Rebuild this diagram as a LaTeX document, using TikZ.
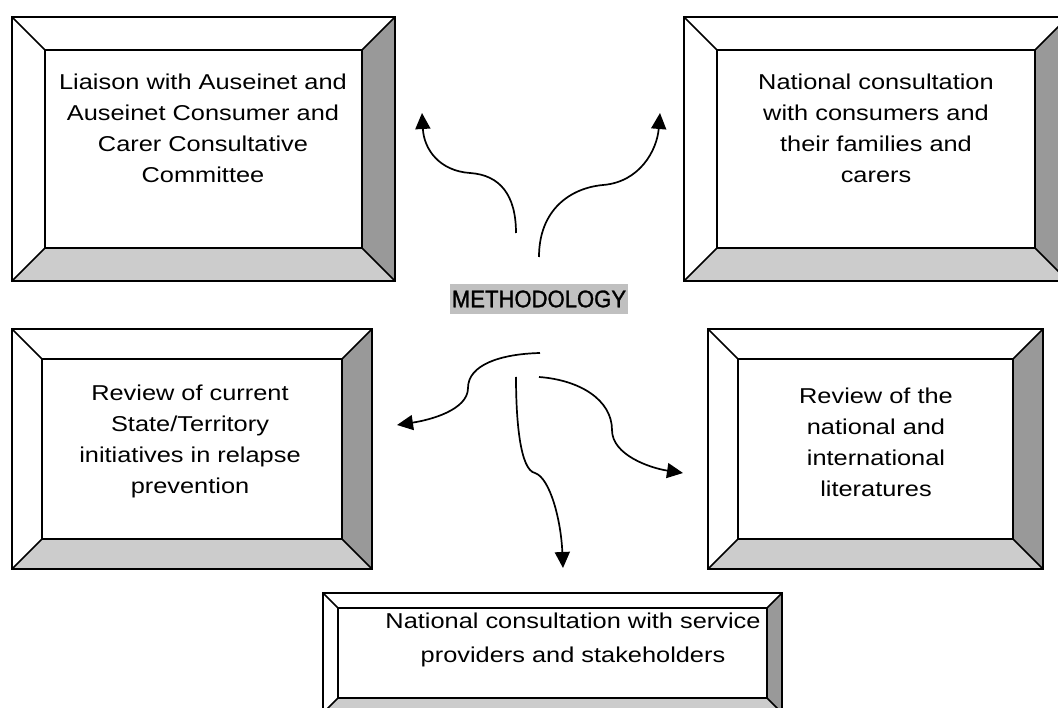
\documentclass[tikz,border=0pt]{standalone}
\usepackage{fontspec}
\setmainfont{Liberation Sans}
\newfontfamily\boxfont[FakeStretch=1.18]{Liberation Sans}
\newfontfamily\titlefont[FakeStretch=0.92,FakeBold=1.2]{Liberation Sans}
\usetikzlibrary{arrows.meta}
\definecolor{darkbev}{RGB}{153,153,153}
\definecolor{lightbev}{RGB}{204,204,204}
\definecolor{hlgray}{RGB}{192,192,192}
\tikzset{
  frameline/.style={draw=black, line width=1.6pt, line join=miter},
  boxtext/.style={align=center, font=\boxfont\fontsize{21.5}{31}\selectfont, inner sep=0pt},
  flow/.style={line width=1.7pt, -{Triangle[length=16pt,width=15pt]}},
  titlebox/.style={fill=hlgray, font=\titlefont\fontsize{24}{26}\selectfont, inner sep=0pt,
    minimum width=178pt, minimum height=30pt}
}
% #1 x1, #2 y1, #3 x2, #4 y2, #5 bevel
\newcommand{\bevelbox}[5]{%
  \fill[lightbev] (#1,#4) -- (#3,#4) -- ({#3-#5},{#4-#5}) -- ({#1+#5},{#4-#5}) -- cycle;
  \fill[darkbev] (#3,#2) -- (#3,#4) -- ({#3-#5},{#4-#5}) -- ({#3-#5},{#2+#5}) -- cycle;
  \draw[frameline] (#1,#2) rectangle (#3,#4);
  \draw[frameline] ({#1+#5},{#2+#5}) rectangle ({#3-#5},{#4-#5});
  \draw[frameline] (#1,#2) -- ({#1+#5},{#2+#5});
  \draw[frameline] (#3,#2) -- ({#3-#5},{#2+#5});
  \draw[frameline] (#1,#4) -- ({#1+#5},{#4-#5});
  \draw[frameline] (#3,#4) -- ({#3-#5},{#4-#5});
}
\begin{document}
\begin{tikzpicture}[x=1pt,y=-1pt]
\useasboundingbox (0,0) rectangle (1058,708);
\clip (0,0) rectangle (1058,708);

\bevelbox{12}{17}{395}{281}{33}
\bevelbox{684}{17}{1068}{281}{33}
\bevelbox{12}{329}{372}{569}{30}
\bevelbox{708}{329}{1043}{569}{30}
\bevelbox{323}{593}{782}{713}{15}

\node[boxtext] (liaison) at (203,128) {Liaison with Auseinet and\\Auseinet Consumer and\\Carer Consultative\\Committee};
\node[boxtext] (consumers) at (876,128) {National consultation\\with consumers and\\their families and\\carers};
\node[boxtext] (review) at (190,441) {Review of current\\State/Territory\\initiatives in relapse\\prevention};
\node[boxtext] (literature) at (876,442) {Review of the\\national and\\international\\literatures};
\node[boxtext, font=\boxfont\fontsize{21.5}{34}\selectfont] (providers) at (573,640) {National consultation with service\\providers and stakeholders};

\node[titlebox] (method) at (539,299) {METHODOLOGY};

\coordinate (s1) at (516,233); \coordinate (t1) at (422,113);
\coordinate (s2) at (539,257); \coordinate (t2) at (660,113);
\coordinate (s3) at (540,353); \coordinate (t3) at (397,425);
\coordinate (s4) at (516,377); \coordinate (t4) at (563,568);
\coordinate (s5) at (539,377); \coordinate (t5) at (683,473);

\draw[flow] (s1) .. controls (516,195) and (500,175) .. (470,173) .. controls (440,171) and (424,150) .. (t1);
\draw[flow] (s2) .. controls (539,210) and (570,188) .. (603,185) .. controls (640,182) and (657,150) .. (t2);
\draw[flow] (s3) .. controls (500,354) and (468,365) .. (468,388) .. controls (468,410) and (430,420) .. (t3);
\draw[flow] (s4) .. controls (516,420) and (520,470) .. (535,473) .. controls (550,478) and (561,520) .. (t4);
\draw[flow] (s5) .. controls (580,380) and (612,400) .. (612,430) .. controls (612,455) and (650,468) .. (t5);
\end{tikzpicture}
\end{document}
